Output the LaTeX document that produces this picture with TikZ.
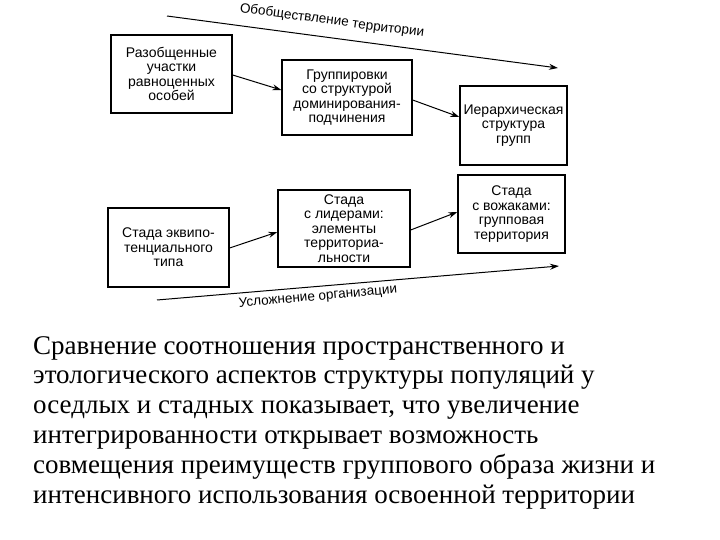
\documentclass[tikz,border=0pt]{standalone}
\usepackage{fontspec}
\setmainfont{Liberation Serif}
\newfontfamily\diag{Liberation Sans}
\usetikzlibrary{arrows.meta}
\begin{document}
\begin{tikzpicture}[x=1pt,y=-1pt,
 box/.style={draw,line width=1.3pt,align=center,font=\diag\fontsize{14}{14.5}\selectfont,inner sep=0pt},
 arr/.style={-{Stealth[length=9pt,width=6pt]},line width=1pt},
 lbl/.style={font=\diag\fontsize{13.5}{14}\selectfont}]
\useasboundingbox (0,0) rectangle (720,540);
\node[box,minimum width=121pt,minimum height=78pt] (a) at (171.5,74) {Разобщенные\\участки\\равноценных\\особей};
\node[box,minimum width=130pt,minimum height=75pt] (b) at (347,97.5) {Группировки\\со структурой\\доминирования-\\подчинения};
\node[box,minimum width=107pt,minimum height=79pt] (c) at (513.5,125.5) {Иерархическая\\структура\\групп};
\node[box,minimum width=121pt,minimum height=79pt] (d) at (168.5,247.5) {Стада эквипо-\\тенциального\\типа};
\node[box,minimum width=132pt,minimum height=77pt] (e) at (344,228.5) {Стада\\с лидерами:\\элементы\\территориа-\\льности};
\node[box,minimum width=107pt,minimum height=78pt] (f) at (511.5,214) {Стада\\с вожаками:\\групповая\\территория};
\draw[arr] (a.east|-0,75) -- (b.west|-0,90);
\draw[arr] (b.east|-0,100) -- (c.west|-0,117);
\draw[arr] (d.east|-0,248) -- (e.west|-0,232);
\draw[arr] (e.east|-0,230) -- (f.west|-0,212);
\coordinate (t1) at (167,16); \coordinate (t2) at (558,68);
\coordinate (u1) at (157,300); \coordinate (u2) at (559,266);
\draw[arr] (t1) -- (t2);
\draw[arr] (u1) -- (u2);
\node[lbl,rotate=-7.6] (tl) at (332,21) {Обобществление территории};
\node[lbl,rotate=5] (ul) at (318,297) {Усложнение организации};
\node[anchor=north west,align=left,inner sep=0pt,font=\fontsize{27}{29.8}\selectfont] (txt) at (33,336)
{Сравнение соотношения пространственного и\\этологического аспектов структуры популяций у\\оседлых и стадных показывает, что увеличение\\интегрированности открывает возможность\\совмещения преимуществ группового образа жизни и\\интенсивного использования освоенной территории};
\end{tikzpicture}
\end{document}
